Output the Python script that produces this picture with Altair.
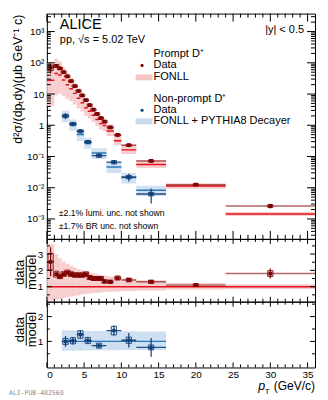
import altair as alt
import pandas as pd

# ---------------- Prompt D+ ----------------
pr_lo = [0, 1, 1.5, 2, 2.5, 3, 3.5, 4, 4.5, 5, 5.5, 6, 6.5, 7, 7.5, 8, 9, 10, 12, 16, 24]
pr_hi = [1, 1.5, 2, 2.5, 3, 3.5, 4, 4.5, 5, 5.5, 6, 6.5, 7, 7.5, 8, 9, 10, 12, 16, 24, 36]
pr_pt = [0.5, 1.25, 1.75, 2.25, 2.75, 3.25, 3.75, 4.25, 4.75, 5.25, 5.75, 6.25, 6.75, 7.25, 7.75,
         8.5, 9.5, 11, 14, 20, 30]
pr_val = [70, 80, 66, 50, 37, 26, 18, 12.5, 9.0, 6.4, 4.4, 3.15, 2.3, 1.7, 1.3,
          0.85, 0.49, 0.23, 0.072, 0.0125, 0.0026]
pr_stat = [0.35, 0.06, 0.04, 0.03, 0.03, 0.03, 0.03, 0.03, 0.03, 0.03, 0.04, 0.04, 0.04, 0.05, 0.05,
           0.05, 0.06, 0.06, 0.08, 0.08, 0.17]
pr_syst = [0.2, 0.1, 0.08, 0.08, 0.08, 0.08, 0.08, 0.08, 0.08, 0.08, 0.08, 0.08, 0.08, 0.08, 0.08,
           0.08, 0.08, 0.08, 0.08, 0.08, 0.1]
pr_model = [27.7, 45.2, 40.7, 28.2, 19.8, 14.7, 10.5, 7.3, 5.26, 3.62, 2.82, 2.1, 1.53, 1.13, 0.985,
            0.654, 0.32, 0.163, 0.0554, 0.0114, 0.00144]
pr_model_up = [3.6, 3.0, 2.75, 2.55, 2.4, 2.28, 2.18, 2.08, 2.0, 1.93, 1.87, 1.82, 1.77, 1.73, 1.69,
               1.64, 1.58, 1.5, 1.4, 1.22, 1.15]
pr_model_dn = [0.15, 0.2, 0.25, 0.3, 0.35, 0.4, 0.44, 0.48, 0.52, 0.55, 0.58, 0.61, 0.63, 0.65, 0.67,
               0.69, 0.71, 0.74, 0.77, 0.82, 0.86]

# ---------------- Non-prompt D+ ----------------
np_lo = [2, 3, 4, 5, 6, 8, 10, 12]
np_hi = [3, 4, 5, 6, 8, 10, 12, 16]
np_pt = [2.5, 3.5, 4.5, 5.5, 7, 9, 11, 14]
np_val = [2.0, 1.1, 0.64, 0.29, 0.107, 0.066, 0.022, 0.0063]
np_stat = [0.22, 0.15, 0.12, 0.12, 0.10, 0.14, 0.28, 0.5]
np_syst = [0.12, 0.12, 0.12, 0.12, 0.12, 0.12, 0.12, 0.13]
np_model = [2.0, 1.07, 0.50, 0.28, 0.129, 0.046, 0.021, 0.0083]
np_model_up = [1.45, 1.44, 1.43, 1.42, 1.42, 1.41, 1.41, 1.40]
np_model_dn = [0.62, 0.62, 0.63, 0.63, 0.64, 0.64, 0.65, 0.65]

# tick label values
x_labels = [0, 5, 10, 15, 20, 25, 30, 35]
top_y_labels = [1e-3, 1e-2, 1e-1, 1, 10, 100, 1000]
mid_y_labels = [1, 2, 3]
bot_y_labels = [1, 2]

# ---------------- styling ----------------
FONT = "Liberation Sans"
W = 269
H1, H2, H3 = 226, 63, 66
DRED = "#7d0000"
RED = "#e3101a"
PINK = "#f7c4c4"
DBLUE = "#103f78"
BLUE = "#2a78b8"
LBLUE = "#c8dcef"
XS = alt.Scale(domain=[0, 36], nice=False, zero=False)
YS1 = alt.Scale(type="log", domain=[2.3e-4, 3760], nice=False)
YS2 = alt.Scale(domain=[0.08, 3.93], nice=False, zero=False)
YS3 = alt.Scale(domain=[-0.05, 2.6], nice=False, zero=False)


def build(lo, hi, pt, val, stat, syst, model, up, dn):
    d = pd.DataFrame(dict(lo=lo, hi=hi, pt=pt, val=val, stat=stat, syst=syst,
                          model=model, up=up, dn=dn))
    d["v_lo"] = d.val * (1 - d.stat)
    d["v_hi"] = d.val * (1 + d.stat)
    d["s_lo"] = d.val * (1 - d.syst)
    d["s_hi"] = d.val * (1 + d.syst)
    d["b_x1"] = d.pt - 0.35
    d["b_x2"] = d.pt + 0.35
    d["m_lo"] = d.model * d.dn
    d["m_hi"] = d.model * d.up
    d["r"] = d.val / d.model
    d["r_lo"] = d.r * (1 - d.stat)
    d["r_hi"] = d.r * (1 + d.stat)
    d["rs_lo"] = d.r * (1 - d.syst)
    d["rs_hi"] = d.r * (1 + d.syst)
    d["one"] = 1.0
    return d


pr = build(pr_lo, pr_hi, pr_pt, pr_val, pr_stat, pr_syst, pr_model, pr_model_up, pr_model_dn)
npd = build(np_lo, np_hi, np_pt, np_val, np_stat, np_syst, np_model, np_model_up, np_model_dn)
pr_line = pd.DataFrame({"lo": [pr_lo[0]], "hi": [pr_hi[-1]], "one": [1.0]})
np_line = pd.DataFrame({"lo": [np_lo[0]], "hi": [np_hi[-1]], "one": [1.0]})
ONE = pd.DataFrame({"a": [0]})


def txt(s, x, y, size=11, align="left", baseline="alphabetic", **kw):
    return alt.Chart(ONE).mark_text(text=s, align=align, baseline=baseline, fontSize=size,
                                    font=kw.pop("font", FONT), color=kw.pop("color", "black"),
                                    **kw).encode(x=alt.value(x), y=alt.value(y))


class Panel:
    def __init__(self, yscale, yaxis, xaxis, H):
        self.ys, self.ya, self.xa, self.H = yscale, yaxis, xaxis, H

    def X(self, f):
        return alt.X(f, type="quantitative", scale=XS, axis=self.xa, title=None)

    def Y(self, f):
        return alt.Y(f, type="quantitative", scale=self.ys, axis=self.ya, title=None)

    def ticks(self, ymaj, ymin, xmaj_len, xmin_len, ymaj_len, ymin_len):
        H = self.H
        xmaj = pd.DataFrame({"v": list(range(0, 36, 5))})
        xmin = pd.DataFrame({"v": [v for v in range(1, 36) if v % 5 != 0]})
        L = []
        for d, ln in ((xmaj, xmaj_len), (xmin, xmin_len)):
            L.append(alt.Chart(d).mark_rule(color="black", strokeWidth=1).encode(
                x=self.X("v"), y=alt.value(H), y2=alt.value(H - ln)))
            L.append(alt.Chart(d).mark_rule(color="black", strokeWidth=1).encode(
                x=self.X("v"), y=alt.value(0), y2=alt.value(ln)))
        for vals, ln in ((ymaj, ymaj_len), (ymin, ymin_len)):
            d = pd.DataFrame({"v": vals})
            L.append(alt.Chart(d).mark_rule(color="black", strokeWidth=1).encode(
                y=self.Y("v"), x=alt.value(0), x2=alt.value(ln)))
            L.append(alt.Chart(d).mark_rule(color="black", strokeWidth=1).encode(
                y=self.Y("v"), x=alt.value(W), x2=alt.value(W - ln)))
        return L

    def band(self, d, ylo, yhi, color, op):
        return alt.Chart(d).mark_rect(color=color, opacity=op, clip=True).encode(
            x=self.X("lo"), x2="hi", y=self.Y(ylo), y2=yhi)

    def line(self, d, ycol, color):
        return alt.Chart(d).mark_rule(color=color, strokeWidth=1.4, clip=True).encode(
            x=self.X("lo"), x2="hi", y=self.Y(ycol))

    def data(self, d, ycol, lo, hi, slo, shi, color, hop, point):
        L = [
            alt.Chart(d).mark_rule(color=color, opacity=hop, strokeWidth=1.4, clip=True).encode(
                x=self.X("lo"), x2="hi", y=self.Y(ycol)),
            alt.Chart(d).mark_rule(color=color, strokeWidth=1.2, clip=True).encode(
                x=self.X("pt"), y=self.Y(lo), y2=hi),
            alt.Chart(d).mark_rect(fillOpacity=0, stroke=color, strokeWidth=0.9, clip=True).encode(
                x=self.X("b_x1"), x2="b_x2", y=self.Y(slo), y2=shi),
        ]
        if point == "square":
            L.append(alt.Chart(d).mark_square(size=14, color=color, opacity=1, clip=True).encode(
                x=self.X("pt"), y=self.Y(ycol)))
        else:
            L.append(alt.Chart(d).mark_circle(size=16, color=color, opacity=1, clip=True).encode(
                x=self.X("pt"), y=self.Y(ycol)))
        return L


# ---------------- top panel ----------------
lab_expr = ("datum.value > 500 ? '10³' : datum.value > 50 ? '10²' : datum.value > 5 ? '10' : "
            "datum.value > 0.5 ? '1' : datum.value > 0.05 ? '10⁻¹' : datum.value > 0.005 ? '10⁻²' : '10⁻³'")
YAX1 = alt.Axis(values=top_y_labels, labelExpr=lab_expr, labelPadding=3, labelFontSize=10)
P1 = Panel(YS1, YAX1, None, H1)
ymin1 = [k * 10.0 ** e for e in range(-4, 4) for k in range(2, 10) if 2.3e-4 <= k * 10.0 ** e <= 3760]

top_layers = [
    P1.band(pr, "m_lo", "m_hi", PINK, 0.85),
    P1.band(npd, "m_lo", "m_hi", LBLUE, 0.85),
    P1.line(pr, "model", RED),
    P1.line(npd, "model", BLUE),
]
top_layers += P1.data(pr, "val", "v_lo", "v_hi", "s_lo", "s_hi", DRED, 0.6, "square")
top_layers += P1.data(npd, "val", "v_lo", "v_hi", "s_lo", "s_hi", DBLUE, 0.9, "circle")
top_layers += P1.ticks(top_y_labels, ymin1, 8, 4, 8, 4)
top_layers += [
    txt("ALICE", 13, 15, size=14.5),
    txt("pp, √s = 5.02 TeV", 13, 29, size=11),
    txt("|y| < 0.5", 258, 19, size=11, align="right"),
    txt("Prompt D⁺", 107, 41, size=11, baseline="middle"),
    txt("Data", 107, 52, size=11, baseline="middle"),
    txt("FONLL", 107, 64, size=11, baseline="middle"),
    txt("Non-prompt D⁺", 107, 86, size=11, baseline="middle"),
    txt("Data", 107, 97, size=11, baseline="middle"),
    txt("FONLL + PYTHIA8 Decayer", 107, 108, size=11, baseline="middle"),
    alt.Chart(ONE).mark_circle(size=10, color=DRED, opacity=1).encode(x=alt.value(95.5), y=alt.value(52)),
    alt.Chart(ONE).mark_circle(size=10, color=DBLUE, opacity=1).encode(x=alt.value(95.5), y=alt.value(97)),
    alt.Chart(ONE).mark_rect(color=PINK).encode(x=alt.value(89), x2=alt.value(106), y=alt.value(61), y2=alt.value(67)),
    alt.Chart(ONE).mark_rect(color=LBLUE).encode(x=alt.value(89), x2=alt.value(106), y=alt.value(105), y2=alt.value(111)),
    txt("±2.1% lumi. unc. not shown", 12, 200, size=8.7, baseline="middle"),
    txt("±1.7% BR unc. not shown", 12, 213, size=8.7, baseline="middle"),
    txt("d²σ/(dpₜdy)(μb GeV⁻¹ c)", -29, 1, size=12.5, align="right", baseline="middle", angle=270),
]
top = alt.layer(*top_layers).properties(width=W, height=H1)


def frac(ycen):
    return [
        txt("data", -27, ycen, size=13, align="center", baseline="middle", angle=270),
        txt("model", -14.5, ycen, size=13, align="center", baseline="middle", angle=270),
        alt.Chart(ONE).mark_rule(color="black", strokeWidth=1).encode(
            x=alt.value(-20.7), y=alt.value(ycen - 16), y2=alt.value(ycen + 16)),
    ]


# ---------------- middle panel (prompt ratio) ----------------
YAX2 = alt.Axis(values=mid_y_labels, labelPadding=4, labelFontSize=10, format="d")
P2 = Panel(YS2, YAX2, None, H2)
mid_layers = [
    P2.band(pr, "dn", "up", PINK, 0.85),
    P2.line(pr_line, "one", RED),
]
mid_layers += P2.data(pr, "r", "r_lo", "r_hi", "rs_lo", "rs_hi", DRED, 0.6, "square")
mid_layers += P2.ticks(mid_y_labels, [0.5, 1.5, 2.5, 3.5], 5, 3, 5, 3)
mid_layers += frac(33.5)
mid = alt.layer(*mid_layers).properties(width=W, height=H2)

# ---------------- bottom panel (non-prompt ratio) ----------------
YAX3 = alt.Axis(values=bot_y_labels, labelPadding=4, labelFontSize=10, format="d")
XAX3 = alt.Axis(values=x_labels, labelPadding=2, labelFontSize=10, format="d")
P3 = Panel(YS3, YAX3, XAX3, H3)
bot_layers = [
    P3.band(npd, "dn", "up", LBLUE, 0.9),
    P3.line(np_line, "one", BLUE),
]
bot_layers += P3.data(npd, "r", "r_lo", "r_hi", "rs_lo", "rs_hi", DBLUE, 0.9, "circle")
bot_layers += P3.ticks(bot_y_labels, [0.5, 1.5, 2.5], 5, 3, 5, 3)
bot_layers += frac(28)
bot_layers += [
    txt("p", 212, 89, size=12.5, fontStyle="italic"),
    txt("T", 218.5, 92.5, size=8),
    txt("(GeV/c)", 269, 89, size=12, align="right"),
    txt("ALI-PUB-482569", -38, 94, size=6.5, font="DejaVu Sans Mono", color="#8a8a8a"),
]
bot = alt.layer(*bot_layers).properties(width=W, height=H3)

chart = (
    alt.vconcat(top, mid, bot, spacing=0, bounds="flush")
    .properties(padding={"left": 0, "top": 4, "right": 4, "bottom": 0})
    .configure_view(stroke="black", strokeWidth=1)
    .configure_axis(grid=False, ticks=False, domain=False, labelFont=FONT, labelColor="black")
    .configure_text(font=FONT)
)

chart.save("out.html", embed_options={"renderer": "svg", "actions": False})
